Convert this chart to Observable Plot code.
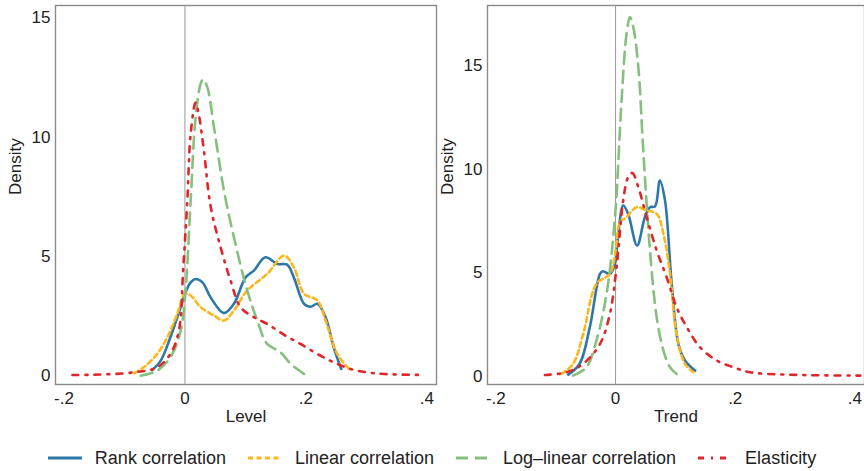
<!DOCTYPE html>
<html><head><meta charset="utf-8">
<script src="https://cdn.jsdelivr.net/npm/d3@7"></script>
<script src="https://cdn.jsdelivr.net/npm/@observablehq/plot@0.6"></script>
<style>
body{margin:0;background:#fff;font-family:"Liberation Sans",Arial,sans-serif;}
#wrap{position:relative;width:864px;height:471px;overflow:hidden;background:#fff}
#left{position:absolute;left:0;top:0}
#right{position:absolute;left:440px;top:0}
#legend{position:absolute;top:446px;left:0;width:864px;height:24px;display:flex;justify-content:center;align-items:center;font-size:18px;color:#222}
.item{display:flex;align-items:center;margin:0 11px;white-space:nowrap}
.item svg{margin-right:13px}
</style></head>
<body><div id="wrap"><div id="left"></div><div id="right"></div><div id="legend"></div></div>
<script>
// ---- data ----
const series = ["Rank correlation", "Linear correlation", "Log\u2013linear correlation", "Elasticity"];
const xTicks = [-0.2, 0, 0.2, 0.4];
const xTickLabels = ["-.2", "0", ".2", ".4"];
const yTicks = [0, 5, 10, 15];

// Level panel
const levelRankX = [-0.054,-0.040,-0.024,-0.007,0,0.0095,0.0177,0.029,0.0425,0.0645,0.081,0.1003,0.114,0.133,0.153,0.169,0.180,0.197,0.208,0.219,0.2326,0.246,0.2585];
const levelRankY = [0.25,0.64,1.62,2.88,3.44,3.92,4.06,3.92,3.29,2.63,3.02,4.13,4.41,4.97,4.69,4.66,4.13,3.02,2.9,3.02,2.46,1.2,0.29];
const levelLinearX = [-0.084,-0.068,-0.046,-0.029,-0.0126,0,0.0095,0.026,0.048,0.0645,0.081,0.103,0.136,0.164,0.180,0.197,0.219,0.2326,0.252,0.274];
const levelLinearY = [0.11,0.36,0.92,1.62,2.6,3.44,3.37,2.88,2.53,2.32,2.74,3.58,4.27,5.04,4.55,3.44,3.16,2.32,0.92,0.22];
const levelLogX = [-0.073,-0.046,-0.024,-0.007,0.001,0.0095,0.0177,0.026,0.030,0.037,0.048,0.0645,0.081,0.103,0.1197,0.136,0.158,0.175,0.197];
const levelLogY = [0.01,0.22,0.78,1.9,3.58,7.35,10.84,12.24,12.42,12.1,10.42,7.77,5.81,3.58,2.32,1.34,0.99,0.5,0.08];
const levelElastX = [-0.186,-0.151,-0.084,-0.046,-0.024,-0.010,-0.0027,0.004,0.0095,0.0177,0.0226,0.0314,0.0425,0.059,0.0755,0.092,0.114,0.136,0.164,0.191,0.219,0.246,0.274,0.301,0.329,0.392];
const levelElastY = [0.04,0.05,0.15,0.36,0.92,1.9,4.55,7.35,10.14,11.45,11.0,9.44,7.1,5.39,3.99,2.88,2.46,2.18,1.72,1.34,0.92,0.57,0.29,0.15,0.08,0.04];

// Trend panel
const trendRankX = [-0.079,-0.060,-0.043,-0.026,-0.021,-0.0095,-0.001,0.0045,0.0128,0.021,0.036,0.049,0.0575,0.066,0.074,0.0826,0.0938,0.105,0.116,0.133];
const trendRankY = [0.08,0.6,2.37,4.94,5.07,4.94,5.43,6.88,8.24,7.84,6.31,7.68,8.16,8.2,9.45,8.49,4.46,1.56,0.76,0.27];
const trendLinearX = [-0.0905,-0.071,-0.054,-0.032,-0.0095,0.0006,0.0073,0.0184,0.035,0.052,0.0687,0.08,0.091,0.102,0.116,0.130];
const trendLinearY = [0.11,0.6,2.05,4.46,4.94,6.15,7.44,7.68,8.16,8.0,7.84,6.88,4.94,2.05,0.6,0.19];
const trendLogX = [-0.071,-0.0486,-0.032,-0.015,-0.001,0.010,0.0184,0.024,0.0296,0.038,0.0463,0.0575,0.0687,0.08,0.091,0.102];
const trendLogY = [0.03,0.43,1.72,3.98,7.68,13.3,16.54,17.34,16.86,14.93,10.9,6.07,2.85,1.24,0.43,0.11];
const trendElastX = [-0.118,-0.082,-0.054,-0.026,-0.0095,0.0017,0.0128,0.021,0.028,0.038,0.052,0.0687,0.0854,0.102,0.119,0.141,0.169,0.197,0.225,0.281,0.409];
const trendElastY = [0.06,0.19,0.6,1.56,3.01,5.27,8.49,9.61,9.81,9.13,7.68,6.07,4.78,3.33,2.37,1.4,0.76,0.43,0.19,0.08,0.03];

// ---- styles ----
const colors = ["#2e78a8", "#fdb61c", "#86c07e", "#e0262b"];
const dashes = [null, "5,3.5", "12,7", "6,7,2,7"];
const font = "'Liberation Sans', Arial, sans-serif";

function panel(xs, ys, yDomain, label, width, marginLeft, marginRight) {
  const data = [];
  series.forEach((s, i) => xs[i].forEach((x, j) => data.push({series: s, x, y: ys[i][j]})));
  return Plot.plot({
    width, height: 420, marginLeft, marginRight, marginTop: 5, marginBottom: 36,
    style: {fontSize: "17px", fontFamily: font, color: "#222", background: "white", overflow: "visible"},
    x: {domain: [-0.214, 0.416], ticks: xTicks, tickFormat: d => xTickLabels[xTicks.indexOf(d)] ?? d, tickSize: 0, tickPadding: 7, label: null},
    y: {domain: yDomain, ticks: yTicks, tickSize: 0, tickPadding: 5, label: null},
    marks: [
      Plot.frame({stroke: "#8a8a8a", strokeWidth: 1.4}),
      Plot.ruleX([0], {stroke: "#999", strokeWidth: 1}),
      ...series.map((s, i) => Plot.line(data.filter(d => d.series === s), {
        x: "x", y: "y", stroke: colors[i], strokeWidth: 2.6,
        strokeDasharray: dashes[i] ?? undefined, curve: "catmull-rom"
      })),
      Plot.text([label], {frameAnchor: "bottom", dy: 32, text: d => d, lineAnchor: "middle", fontSize: 17}),
      Plot.text(["Density"], {frameAnchor: "left", dx: -40, rotate: -90, text: d => d, fontSize: 17})
    ]
  });
}

document.getElementById("left").append(
  panel([levelRankX, levelLinearX, levelLogX, levelElastX], [levelRankY, levelLinearY, levelLogY, levelElastY],
        [-0.36, 15.52], "Level", 440, 55, 4));
document.getElementById("right").append(
  panel([trendRankX, trendLinearX, trendLogX, trendElastX], [trendRankY, trendLinearY, trendLogY, trendElastY],
        [-0.4, 17.9], "Trend", 424, 47, 0));

// legend
const legend = document.getElementById("legend");
series.forEach((s, i) => {
  const item = document.createElement("div");
  item.className = "item";
  item.innerHTML = `<svg width="34" height="10"><line x1="0" x2="34" y1="5" y2="5" stroke="${colors[i]}" stroke-width="3" ${dashes[i] ? `stroke-dasharray="${dashes[i]}"` : ""}/></svg><span>${s}</span>`;
  legend.append(item);
});
</script>
</body></html>
